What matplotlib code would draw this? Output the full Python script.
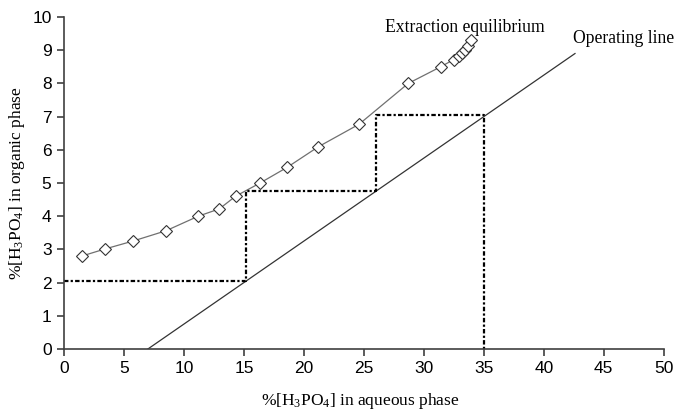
import numpy as np
import matplotlib
matplotlib.use("Agg")
from matplotlib import pyplot as plt

plt.rcParams['mathtext.fontset'] = 'custom'
plt.rcParams['mathtext.rm'] = 'Liberation Serif'
plt.rcParams['mathtext.it'] = 'Liberation Serif'

# equilibrium data (aqueous %, organic %)
eq_x = [1.5, 3.4, 5.75, 8.5, 11.2, 12.95, 14.3, 16.3, 18.6, 21.2, 24.6, 28.7, 31.4, 32.5, 32.9, 33.2, 33.4, 33.7, 33.9]
eq_y = [2.8, 3.01, 3.25, 3.56, 4.0, 4.22, 4.6, 4.99, 5.47, 6.09, 6.77, 8.0, 8.5, 8.72, 8.83, 8.92, 9.02, 9.12, 9.3]

# operating line end points
op_x = [7.0, 42.6]
op_y = [0.0, 8.9]

# McCabe-Thiele steps
step_x = [0, 15.2, 15.2, 26.0, 26.0, 35.0, 35.0]
step_y = [2.05, 2.05, 4.76, 4.76, 7.05, 7.05, 0]

fig = plt.figure(figsize=(6.78, 4.11), dpi=100)
ax = fig.add_axes([0.0944, 0.151, 0.8846, 0.8076])

ax.plot(eq_x, eq_y, color='#707070', lw=0.9, marker='D', ms=6,
        mfc='white', mec='#333333', mew=0.8)
ax.plot(op_x, op_y, color='#333333', lw=0.9)
ax.plot(step_x, step_y, color='black', lw=1.6, ls=(0, (2, 1, 1, 1)))

ax.text(26.8, 9.55, 'Extraction equilibrium', family='Liberation Serif', fontsize=12.7)
ax.text(42.4, 9.22, 'Operating line', family='Liberation Serif', fontsize=12.7)

ax.set_xlim(0, 50)
ax.set_ylim(0, 10)
ax.set_xticks(np.arange(0, 51, 5))
ax.set_yticks(np.arange(0, 11, 1))
for s in ['top', 'right']:
    ax.spines[s].set_visible(False)
for s in ['left', 'bottom']:
    ax.spines[s].set_color('#404040')
    ax.spines[s].set_linewidth(1.2)
ax.tick_params(direction='out', length=5, width=1.2, color='#404040',
               labelsize=12.5, pad=4)
for lab in ax.get_xticklabels() + ax.get_yticklabels():
    lab.set_family('Liberation Sans')

ax.set_ylabel('%[H$_3$PO$_4$] in organic phase', family='Liberation Serif',
              fontsize=12.5, labelpad=4)
fig.text(0.532, 0.014, '%[H$_3$PO$_4$] in aqueous phase', family='Liberation Serif',
         fontsize=12.5, ha='center', va='baseline')

fig.savefig('out.png', dpi=100)
